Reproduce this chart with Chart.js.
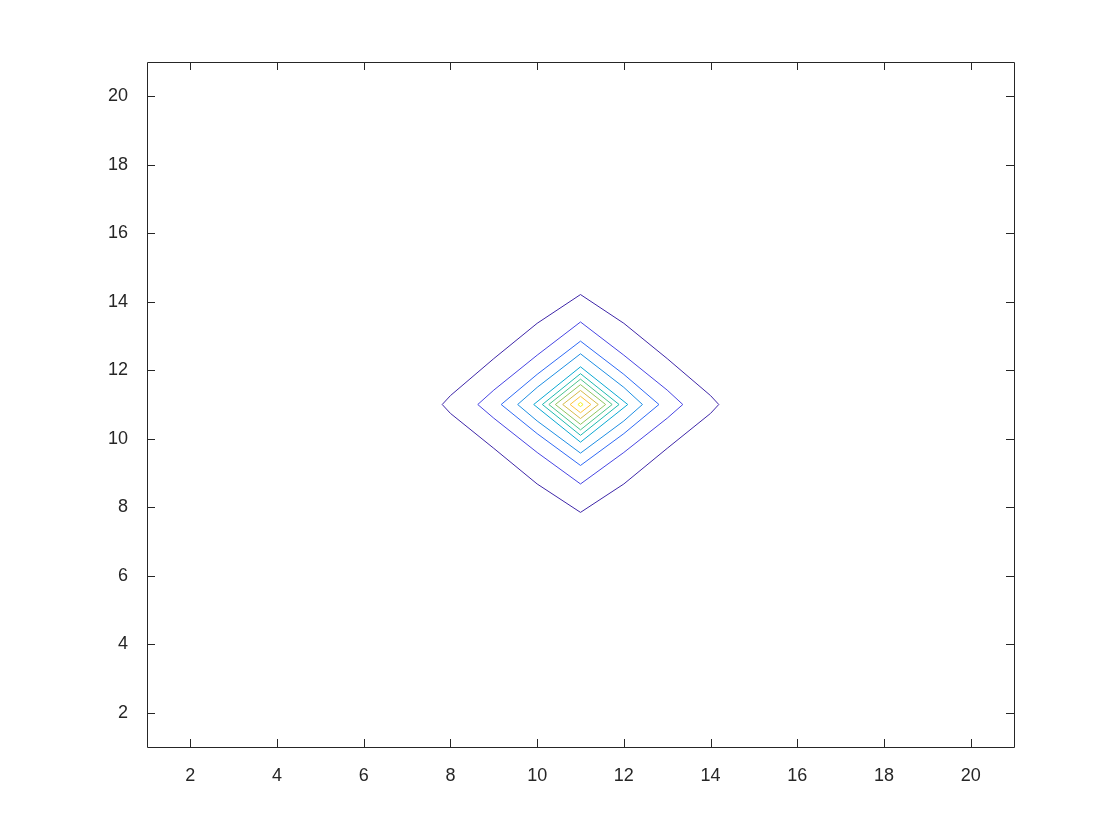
<!DOCTYPE html>
<html>
<head>
<meta charset="utf-8">
<script src="https://cdn.jsdelivr.net/npm/chart.js@4.4.0/dist/chart.umd.min.js"></script>
<style>
  html, body { margin: 0; padding: 0; background: #fff; }
  #box { width: 1120px; height: 840px; }
</style>
</head>
<body>
<div id="box"><canvas id="contour_chart" width="1120" height="840"></canvas></div>
<script>
// tick labels on both axes
const x_ticks = [2, 4, 6, 8, 10, 12, 14, 16, 18, 20];
const y_ticks = [2, 4, 6, 8, 10, 12, 14, 16, 18, 20];

// contour lines, outermost first: [x, y] vertices
const level_1 = [[14.19, 11], [14, 11.26], [13, 12.34], [12, 13.37], [11, 14.21], [10, 13.37], [9, 12.34], [8, 11.26],
  [7.81, 11], [8, 10.74], [9, 9.72], [10, 8.68], [11, 7.85], [12, 8.68], [13, 9.72], [14, 10.74], [14.19, 11]];
const level_2 = [[13.36, 11], [13, 11.42], [12, 12.44], [11, 13.41], [10, 12.44], [9, 11.42], [8.63, 11],
  [9, 10.6], [10, 9.6], [11, 8.68], [12, 9.6], [13, 10.6], [13.36, 11]];
const level_3 = [[12.81, 11], [12, 11.88], [11, 12.85], [10, 11.88], [9.17, 11], [10, 10.15], [11, 9.22], [12, 10.15], [12.81, 11]];
const level_4 = [[12.43, 11], [12, 11.5], [11, 12.48], [10, 11.5], [9.55, 11], [10, 10.52], [11, 9.58], [12, 10.52], [12.43, 11]];
const level_5 = [[12.09, 11], [11, 12.1], [9.92, 11], [11, 9.9], [12.09, 11]];
const level_6 = [[11.89, 11], [11, 11.9], [10.12, 11], [11, 10.1], [11.89, 11]];
const level_7 = [[11.73, 11], [11, 11.74], [10.27, 11], [11, 10.26], [11.73, 11]];
const level_8 = [[11.58, 11], [11, 11.58], [10.42, 11], [11, 10.42], [11.58, 11]];
const level_9 = [[11.41, 11], [11, 11.41], [10.59, 11], [11, 10.59], [11.41, 11]];
const level_10 = [[11.24, 11], [11, 11.24], [10.76, 11], [11, 10.76], [11.24, 11]];
const level_11 = [[11.06, 11], [11, 11.06], [10.94, 11], [11, 10.94], [11.06, 11]];

const levels = [level_1, level_2, level_3, level_4, level_5, level_6, level_7, level_8, level_9, level_10, level_11];
const level_colors = ['#3e26a8', '#4745e3', '#2f6af5', '#1e8ee3', '#0ba8d2', '#1fb9b0',
  '#4cc38a', '#91c55f', '#d5ba48', '#fcc33a', '#f4f01c'];

const ink = '#262626';

// box round the plot area plus inward ticks on all four sides
const box_plugin = {
  id: 'box_ticks',
  afterDraw(chart) {
    const c = chart.ctx;
    const a = chart.chartArea;
    const xs = chart.scales.x;
    const ys = chart.scales.y;
    const len = 8;
    c.save();
    c.strokeStyle = ink;
    c.lineWidth = 1;
    c.beginPath();
    c.rect(Math.round(a.left) + 0.5, Math.round(a.top) + 0.5,
      Math.round(a.right - a.left), Math.round(a.bottom - a.top));
    x_ticks.forEach(v => {
      const px = Math.round(xs.getPixelForValue(v)) + 0.5;
      c.moveTo(px, a.bottom); c.lineTo(px, a.bottom - len);
      c.moveTo(px, a.top); c.lineTo(px, a.top + len);
    });
    y_ticks.forEach(v => {
      const py = Math.round(ys.getPixelForValue(v)) + 0.5;
      c.moveTo(a.left, py); c.lineTo(a.left + len, py);
      c.moveTo(a.right, py); c.lineTo(a.right - len, py);
    });
    c.stroke();
    c.restore();
  }
};

let ctx = document.getElementById('contour_chart').getContext('2d');

const data = {
  datasets: levels.map((pts, i) => ({
    label: 'level ' + (i + 1),
    data: pts.map(p => ({ x: p[0], y: p[1] })),
    borderColor: level_colors[i],
    borderWidth: 1,
    showLine: true,
    fill: false,
    tension: 0,
    pointRadius: 0
  }))
};

const tick_font = { family: 'Liberation Sans, Arial, Helvetica, sans-serif', size: 18 };

const config = {
  type: 'scatter',
  data: data,
  options: {
    responsive: false,
    animation: false,
    layout: { padding: { left: 0, right: 106, top: 62, bottom: 0 } },
    plugins: {
      legend: { display: false },
      tooltip: { enabled: false }
    },
    scales: {
      x: {
        type: 'linear',
        min: 1,
        max: 21,
        afterBuildTicks: axis => { axis.ticks = x_ticks.map(v => ({ value: v })); },
        afterFit: axis => { axis.height = 93; },
        grid: { display: false },
        border: { display: false },
        ticks: { color: ink, font: tick_font, padding: 10, maxRotation: 0 }
      },
      y: {
        type: 'linear',
        min: 1,
        max: 21,
        afterBuildTicks: axis => { axis.ticks = y_ticks.map(v => ({ value: v })); },
        afterFit: axis => { axis.width = 147; },
        grid: { display: false },
        border: { display: false },
        ticks: { color: ink, font: tick_font, padding: 11 }
      }
    }
  },
  plugins: [box_plugin]
};

let created_chart = new Chart(ctx, config);
</script>
</body>
</html>
